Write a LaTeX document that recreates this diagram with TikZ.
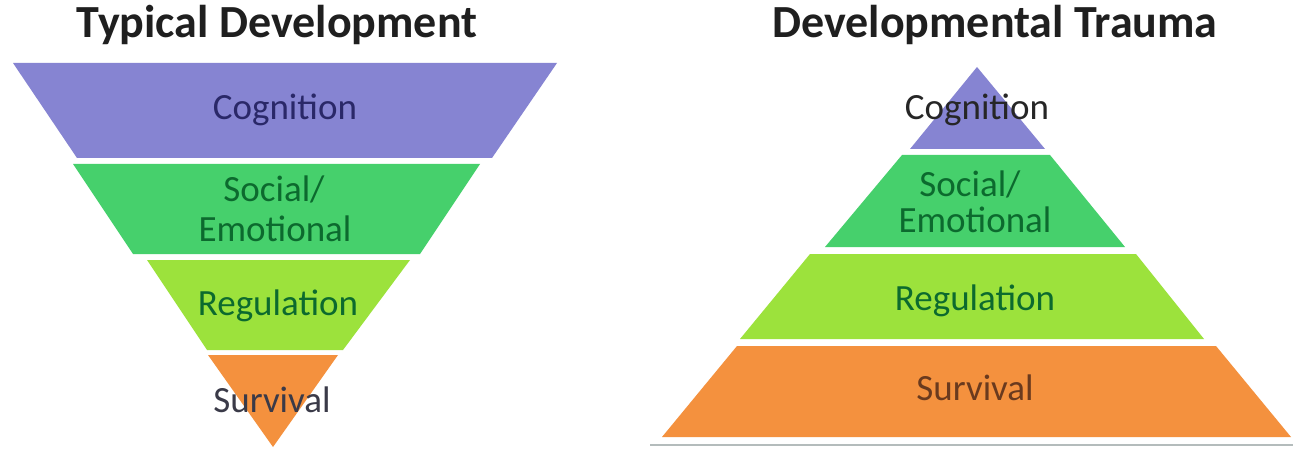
\documentclass[tikz,border=0pt]{standalone}
\usepackage{fontspec}
\setmainfont{Carlito}
\usepackage{tikz}

\definecolor{cogpurple}{HTML}{8684D2}
\definecolor{socgreen}{HTML}{46D06C}
\definecolor{reglime}{HTML}{9CE23C}
\definecolor{survorange}{HTML}{F4913E}
\definecolor{cogtext}{HTML}{2A2868}
\definecolor{soctext}{HTML}{0C6A2E}
\definecolor{survtext}{HTML}{3A3A48}
\definecolor{survbrown}{HTML}{6A3A1E}
\definecolor{basegrey}{HTML}{B4BCBC}

\tikzset{
    headline/.style={font=\bfseries\fontsize{46}{52}\selectfont, text=black!88, anchor=base, inner sep=0pt},
    bandlabel/.style={font=\fontsize{37}{44}\selectfont, anchor=base, inner sep=0pt}
}

\begin{document}
\begin{tikzpicture}[x=1pt, y=-1pt]
    \useasboundingbox (0,0) rectangle (1293,449);
    \fill[white] (0,0) rectangle (1293,449);

    % Typical Development (funnel)
    \fill[cogpurple] (13,63) -- (557,63) -- (492,158) -- (77,158) -- cycle;
    \fill[socgreen] (73,164) -- (480,164) -- (420,254) -- (133,254) -- cycle;
    \fill[reglime] (147,260) -- (410,260) -- (343,350) -- (207,350) -- cycle;
    \fill[survorange] (208,355) -- (338,355) -- (273,447) -- cycle;
    \node[headline] (tdtitle) at (277,38) {Typical Development};
    \node[bandlabel, text=cogtext] (tdcog) at (285,120) {Cognition};
    \node[bandlabel, text=soctext] (tdsoc) at (274,202) {Social/};
    \node[bandlabel, text=soctext] (tdemo) at (275,242) {Emotional};
    \node[bandlabel, text=soctext] (tdreg) at (278,315) {Regulation};
    \node[bandlabel, text=survtext] (tdsurv) at (272,412) {Survival};

    % Developmental Trauma (pyramid)
    \fill[cogpurple] (977,67) -- (1045,149) -- (910,149) -- cycle;
    \fill[socgreen] (902,155) -- (1050,155) -- (1125,247) -- (825,247) -- cycle;
    \fill[reglime] (810,254) -- (1136,254) -- (1204,339) -- (740,339) -- cycle;
    \fill[survorange] (737,346) -- (1216,346) -- (1291,437) -- (662,437) -- cycle;
    \draw[basegrey, line width=2.5pt] (650,445) -- (1293,445);
    \node[headline] (dttitle) at (995,38) {Developmental Trauma};
    \node[bandlabel, text=black!85] (dtcog) at (977,120) {Cognition};
    \node[bandlabel, text=soctext] (dtsoc) at (970,197) {Social/};
    \node[bandlabel, text=soctext] (dtemo) at (975,233) {Emotional};
    \node[bandlabel, text=soctext] (dtreg) at (975,310) {Regulation};
    \node[bandlabel, text=survbrown] (dtsurv) at (975,400) {Survival};
\end{tikzpicture}
\end{document}
